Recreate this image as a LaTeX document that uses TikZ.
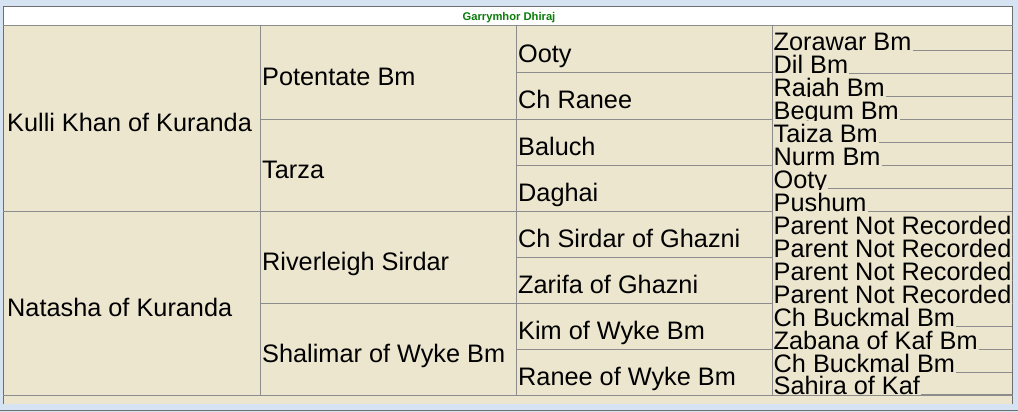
\documentclass[tikz,border=0pt]{standalone}
\usepackage{fontspec}
\setmainfont{Liberation Sans}
\definecolor{winbg}{RGB}{214,227,242}
\definecolor{cellbg}{RGB}{236,230,207}
\definecolor{linegray}{RGB}{140,140,140}
\definecolor{framegray}{RGB}{110,110,110}
\definecolor{titlegreen}{RGB}{10,125,10}
\tikzset{
  horse/.style={anchor=base west, inner sep=0pt, font=\fontsize{25.3}{26}\selectfont},
  grid/.style={draw=linegray, line width=1pt},
  tag/.style={grid, shorten <=1pt},
}
\begin{document}
\begin{tikzpicture}[x=1pt,y=-1pt]
      \useasboundingbox (0,0) rectangle (1018,412);
      % window and table background
      \fill[winbg] (0,0) rectangle (1018,412);
      \fill[white] (3,6) rectangle (1013,26);
      \fill[cellbg] (3,26) rectangle (1013,404);
      \draw[framegray, line width=1pt] (3.5,404) -- (3.5,6.5) -- (1012.5,6.5) -- (1012.5,404);
      \draw[framegray, line width=1pt] (0,410.5) -- (1018,410.5);
      \coordinate (rgt) at (1012,0);
      \node[inner sep=0pt, anchor=base, text=titlegreen, font=\fontsize{11.2}{12}\selectfont\bfseries]
        (title) at (509,20.5) {Garrymhor Dhiraj};
      % grid
      \begin{scope}[grid]
        \draw (3,26) -- (1013,26);
        \draw (3,395) -- (1013,395);
        \draw (260,26) -- (260,395);
        \draw (516,26) -- (516,395);
        \draw (772,26) -- (772,395);
        \draw (3,211) -- (772,211);
        \draw (260,119) -- (772,119);
        \draw (260,303) -- (772,303);
        \draw (516,73) -- (772,73);
        \draw (516,165) -- (772,165);
        \draw (516,257) -- (772,257);
        \draw (516,349) -- (772,349);
      \end{scope}
      % parents
      \node[horse] (s) at (7,131.5) {Kulli Khan of Kuranda};
      \node[horse] (d) at (7,316) {Natasha of Kuranda};
      % grandparents
      \node[horse] (ss) at (262,85.5) {Potentate Bm};
      \node[horse] (sd) at (262,178) {Tarza};
      \node[horse] (ds) at (262,270) {Riverleigh Sirdar};
      \node[horse] (dd) at (262,362) {Shalimar of Wyke Bm};
      % great grandparents
      \node[horse] (sss) at (518,62.5) {Ooty};
      \node[horse] (ssd) at (518,109) {Ch Ranee};
      \node[horse] (sds) at (518,155) {Baluch};
      \node[horse] (sdd) at (518,201) {Daghai};
      \node[horse] (dss) at (518,247) {Ch Sirdar of Ghazni};
      \node[horse] (dsd) at (518,293) {Zarifa of Ghazni};
      \node[horse] (dds) at (518,339) {Kim of Wyke Bm};
      \node[horse] (ddd) at (518,385) {Ranee of Wyke Bm};
      % great great grandparents
      \node[horse] (ssss) at (773.5,50.5) {Zorawar Bm};
      \node[horse] (sssd) at (773.5,73.5) {Dil Bm};
      \begin{scope}
        \clip (772,60) rectangle (1013,97);
        \node[horse] (ssds) at (773.5,96.5) {Rajah Bm};
      \end{scope}
      \begin{scope}
        \clip (772,80) rectangle (1013,120);
        \node[horse] (ssdd) at (773.5,119.5) {Begum Bm};
      \end{scope}
      \node[horse] (sdss) at (773.5,142.5) {Taiza Bm};
      \node[horse] (sdsd) at (773.5,165.5) {Nurm Bm};
      \begin{scope}
        \clip (772,150) rectangle (1013,189);
        \node[horse] (sdds) at (773.5,188.5) {Ooty};
      \end{scope}
      \node[horse] (sddd) at (773.5,211.5) {Pushum};
      \node[horse] (dsss) at (773.5,234.5) {Parent Not Recorded};
      \node[horse] (dssd) at (773.5,257.5) {Parent Not Recorded};
      \node[horse] (dsds) at (773.5,280.5) {Parent Not Recorded};
      \node[horse] (dsdd) at (773.5,303.5) {Parent Not Recorded};
      \node[horse] (ddss) at (773.5,326.5) {Ch Buckmal Bm};
      \node[horse] (ddsd) at (773.5,349.5) {Zabana of Kaf Bm};
      \node[horse] (ddds) at (773.5,372.5) {Ch Buckmal Bm};
      \node[horse] (dddd) at (773.5,394.5) {Sahira of Kaf};
      \begin{scope}[tag]
        \draw (ssss.base east) -- (ssss.base east -| rgt);
        \draw (sssd.base east) -- (sssd.base east -| rgt);
        \draw (ssds.base east) -- (ssds.base east -| rgt);
        \draw (ssdd.base east) -- (ssdd.base east -| rgt);
        \draw (sdss.base east) -- (sdss.base east -| rgt);
        \draw (sdsd.base east) -- (sdsd.base east -| rgt);
        \draw (sdds.base east) -- (sdds.base east -| rgt);
        \draw (sddd.base east) -- (sddd.base east -| rgt);
        \draw (dsss.base east) -- (dsss.base east -| rgt);
        \draw (dssd.base east) -- (dssd.base east -| rgt);
        \draw (dsds.base east) -- (dsds.base east -| rgt);
        \draw (dsdd.base east) -- (dsdd.base east -| rgt);
        \draw (ddss.base east) -- (ddss.base east -| rgt);
        \draw (ddsd.base east) -- (ddsd.base east -| rgt);
        \draw (ddds.base east) -- (ddds.base east -| rgt);
        \draw (dddd.base east) -- (dddd.base east -| rgt);
      \end{scope}
    \end{tikzpicture}
\end{document}
